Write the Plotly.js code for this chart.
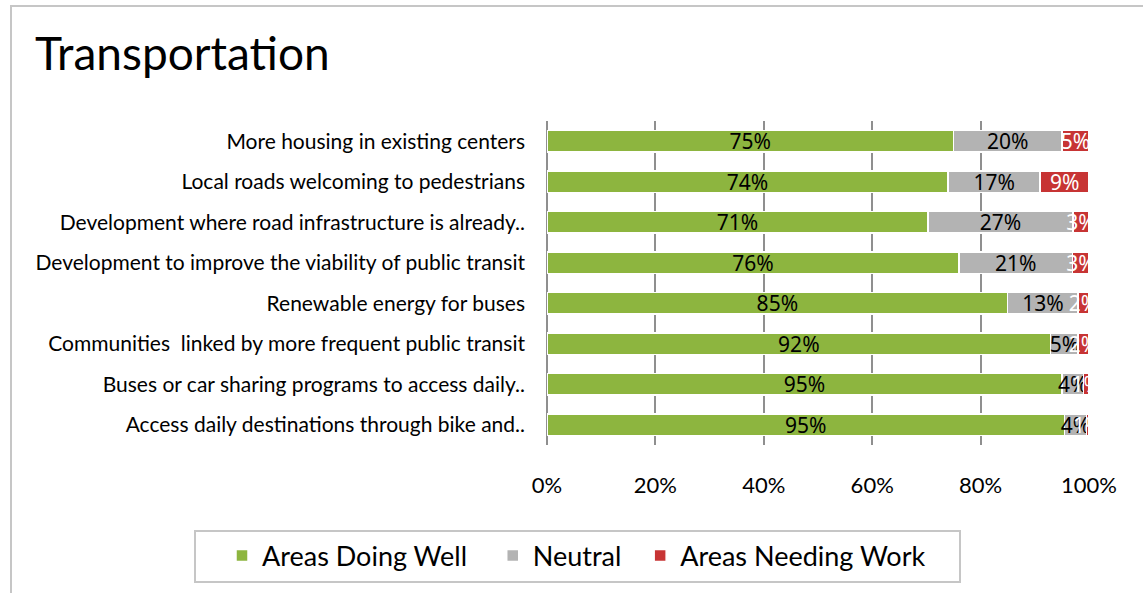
<!DOCTYPE html>
<html>
<head>
<meta charset="utf-8">
<script src="https://cdn.plot.ly/plotly-3.0.1.min.js"></script>
<style>
html,body{margin:0;padding:0;background:#fff;}
#chart{width:1143px;height:593px;}
</style>
</head>
<body>
<div id="chart"></div>
<script>
var categories = [
  "More housing in existing centers",
  "Local roads welcoming to pedestrians",
  "Development where road infrastructure is already..",
  "Development to improve the viability of public transit",
  "Renewable energy for buses",
  "Communities  linked by more frequent public transit",
  "Buses or car sharing programs to access daily..",
  "Access daily destinations through bike and.."
];
var seriesNames = ["Areas Doing Well", "Neutral", "Areas Needing Work"];
var doingWell = [75, 74, 71, 76, 85, 92, 95, 95];
var neutral   = [20, 17, 27, 21, 13, 5, 4, 4];
var needsWork = [5, 9, 3, 3, 2, 2, 1, 0.5];
var tickVals = [0, 20, 40, 60, 80, 100];
var tickText = ["0%", "20%", "40%", "60%", "80%", "100%"];

function pct(arr){ return arr.map(function(v){ return Math.round(v) + "%"; }); }

var labelFamily = "Noto Sans, sans-serif";

function trace(name, vals, color, txtColor){
  return {
    type: "bar", orientation: "h", name: name,
    y: categories, x: vals,
    text: pct(vals), textposition: "inside", insidetextanchor: "middle",
    textangle: 0, constraintext: "none", cliponaxis: true,
    textfont: {family: labelFamily, size: 21, color: txtColor},
    marker: {color: color, line: {color: "#ffffff", width: 1.5}},
    hoverinfo: "none"
  };
}

var data = [
  trace(seriesNames[0] + "\u00a0\u00a0\u00a0", doingWell, "#8db53f", "#000"),
  trace(seriesNames[1] + "\u00a0\u00a0", neutral, "#b3b3b3", "#000"),
  trace(seriesNames[2], needsWork, "#c73434", "#fff")
];

var L = 547, R = 1089, T = 121, B = 445;
function px(x){ return (x - L) / (R - L); }
function py(y){ return (B - y) / (B - T); }

var layout = {
  width: 1143, height: 593,
  margin: {l: L, r: 1143 - R, t: T, b: 593 - B},
  paper_bgcolor: "#fff", plot_bgcolor: "#fff",
  barmode: "stack", barnorm: "percent", bargap: 0.48,
  showlegend: true,
  title: {
    text: "Transportation",
    x: 35 / 1143, xanchor: "left", xref: "container",
    y: 1 - 54 / 593, yanchor: "middle", yref: "container",
    font: {family: "Lato, sans-serif", size: 46, color: "#000"}
  },
  xaxis: {
    range: [0, 100], tickvals: tickVals, ticktext: tickText,
    showgrid: true, gridcolor: "#8f8f8f", gridwidth: 2,
    zeroline: true, zerolinecolor: "#8f8f8f", zerolinewidth: 2,
    showline: false, ticks: "", ticklabelstandoff: 25,
    tickfont: {family: "Lato, sans-serif", size: 22, color: "#000"},
    fixedrange: true
  },
  yaxis: {
    type: "category", autorange: "reversed",
    showgrid: false, zeroline: false, showline: false, ticks: "",
    ticklabelstandoff: 21,
    tickfont: {family: "Lato, sans-serif", size: 21, color: "#000"},
    fixedrange: true
  },
  legend: {
    orientation: "h", traceorder: "normal", x: px(222), xanchor: "left",
    y: py(556), yanchor: "middle",
    font: {family: "Lato, sans-serif", size: 27, color: "#000"},
    bgcolor: "rgba(0,0,0,0)", borderwidth: 0
  },
  shapes: [
    {type: "rect", xref: "paper", yref: "paper",
     x0: px(11), x1: px(1152), y0: py(600), y1: py(6),
     line: {color: "#c6c6c6", width: 2}, fillcolor: "rgba(0,0,0,0)", layer: "below"},
    {type: "rect", xref: "paper", yref: "paper",
     x0: px(195), x1: px(960), y0: py(582), y1: py(531),
     line: {color: "#c6c6c6", width: 2}, fillcolor: "rgba(0,0,0,0)", layer: "below"}
  ]
};

Plotly.newPlot("chart", data, layout, {displayModeBar: false, staticPlot: true});
</script>
</body>
</html>
